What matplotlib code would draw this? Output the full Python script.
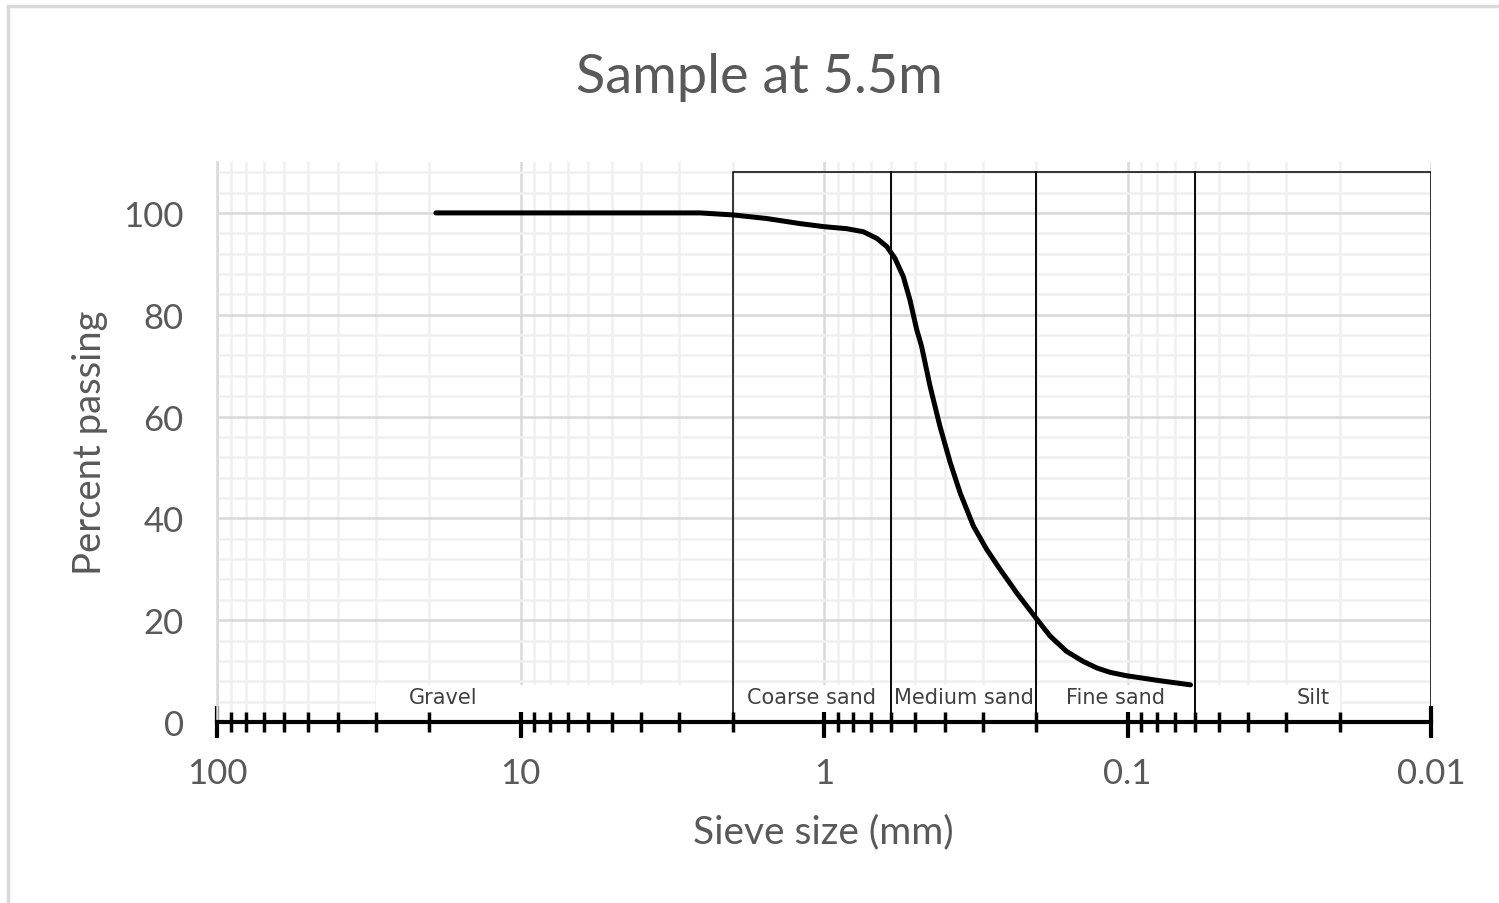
import matplotlib.pyplot as plt
from matplotlib.patches import Rectangle
from matplotlib.ticker import MultipleLocator, LogLocator, NullFormatter

# sieve size (mm) and percent passing
sieve_mm = [19.0, 10.0, 5.47, 2.56, 1.99, 1.545, 1.396, 1.2, 1.0, 0.842, 0.742,
            0.670, 0.621, 0.584, 0.548, 0.521, 0.495, 0.477, 0.447, 0.415,
            0.384, 0.356, 0.322, 0.291, 0.263, 0.232, 0.199, 0.180, 0.159,
            0.140, 0.126, 0.114, 0.101, 0.078, 0.062]
passing = [100, 100, 100, 100, 99.6, 98.9, 98.5, 97.9, 97.3, 96.9, 96.3,
           95.0, 93.4, 91.1, 87.5, 82.9, 77.1, 73.8, 65.9, 58.1,
           51.0, 45.0, 38.5, 33.9, 30.0, 25.4, 20.2, 16.9, 13.9,
           11.9, 10.6, 9.75, 9.1, 8.1, 7.3]

# soil classes drawn as boxes (coarse limit, fine limit in mm)
class_names = ['Coarse sand', 'Medium sand', 'Fine sand', 'Silt']
class_coarse = [2.0, 0.6, 0.2, 0.06]
class_fine = [0.6, 0.2, 0.06, 0.01]
box_top = 108

gravel_label_x = 18.0

x_ticks = [100, 10, 1, 0.1, 0.01]
x_ticklabels = ['100', '10', '1', '0.1', '0.01']

grey_text = '#595959'
plt.rcParams['font.family'] = ['Lato', 'DejaVu Sans']

fig = plt.figure(figsize=(14.99, 9.04), dpi=100)
ax = fig.add_axes([217 / 1499, 1 - 723 / 904, (1431 - 217) / 1499, (723 - 163) / 904])

ax.set_xscale('log')
ax.set_xlim(100, 0.01)
ax.set_ylim(0, 110)

# grid
ax.set_axisbelow(True)
ax.yaxis.set_major_locator(MultipleLocator(20))
ax.yaxis.set_minor_locator(MultipleLocator(4))
ax.xaxis.set_minor_locator(LogLocator(base=10, subs=range(2, 10)))
ax.xaxis.set_minor_formatter(NullFormatter())
ax.grid(which='major', color='#d9d9d9', lw=1.8)
ax.grid(which='minor', color='#f0f0f0', lw=1.8)

# white band behind the class labels
ax.add_patch(Rectangle((0.02, 2.0), 30 - 0.02, 5.3, facecolor='white',
                       edgecolor='none', zorder=1))

# class boxes
for name, c, f in zip(class_names, class_coarse, class_fine):
    ax.add_patch(Rectangle((f, 0), c - f, box_top, fill=False,
                           edgecolor='black', lw=1.1, zorder=2))
    ax.text((c * f) ** 0.5, 5.0, name, ha='center', va='center',
            fontsize=15, color='#404040', family='DejaVu Sans', zorder=2.5)
ax.text(gravel_label_x, 5.0, 'Gravel', ha='center', va='center',
        fontsize=15, color='#404040', family='DejaVu Sans', zorder=2.5)

# grading curve
ax.plot(sieve_mm, passing, color='black', lw=3.6, solid_capstyle='round',
        solid_joinstyle='round', zorder=3)

ax.set_xticks(x_ticks)
ax.set_xticklabels(x_ticklabels)

for s in ['top', 'right']:
    ax.spines[s].set_visible(False)
ax.spines['left'].set_color('#d9d9d9')
ax.spines['left'].set_linewidth(1.8)
ax.spines['bottom'].set_color('black')
ax.spines['bottom'].set_linewidth(3)
ax.spines['bottom'].set_zorder(4)

ax.tick_params(axis='x', which='major', direction='inout', length=23, width=3,
               color='black', pad=14, labelsize=25, labelcolor=grey_text)
ax.tick_params(axis='x', which='minor', direction='inout', length=15, width=2.5,
               color='black')
ax.tick_params(axis='y', which='both', length=0, pad=24, labelsize=25,
               labelcolor=grey_text)

fig.text(759 / 1499, 1 - 78 / 904, 'Sample at 5.5m', fontsize=39, color=grey_text,
         ha='center', va='center')
fig.text(823 / 1499, 1 - 832 / 904, 'Sieve size (mm)', fontsize=28, color=grey_text,
         ha='center', va='center')
fig.text(90 / 1499, 1 - 443 / 904, 'Percent passing', fontsize=27.5, color=grey_text,
         ha='center', va='center', rotation=90)

# chart area border
fig.patches.append(Rectangle((8 / 1499, -0.1), 1.2, 1.1 - 7 / 904, fill=False,
                             edgecolor='#d9d9d9', lw=2.5, transform=fig.transFigure))

fig.savefig('out.png', dpi=100)
